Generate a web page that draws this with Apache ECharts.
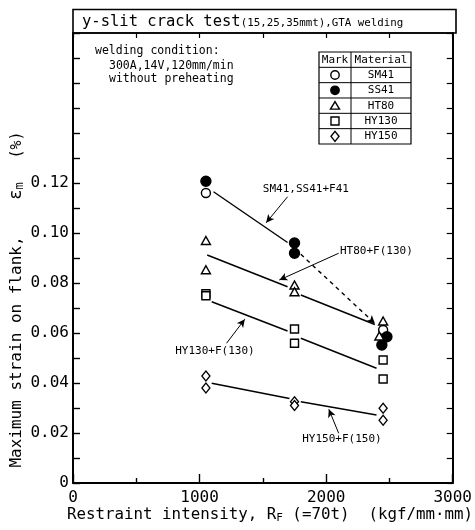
<!DOCTYPE html>
<html>
<head>
<meta charset="utf-8">
<script src="https://cdn.jsdelivr.net/npm/echarts@6/dist/echarts.min.js"></script>
<style>
  html, body { margin: 0; padding: 0; background: #fff; }
  #chart { width: 475px; height: 530px; }
</style>
</head>
<body>
<div id="chart"></div>
<script>
// Restraint intensity R_F (kgf/mm·mm) vs. maximum strain on flank (%)
const sm41 = [[1050, 0.1160], [2450, 0.0612]];
const ss41 = [[1050, 0.1207], [1750, 0.0960], [1750, 0.0919], [2480, 0.0585], [2440, 0.0552]];
const ht80 = [[1050, 0.0970], [1050, 0.0853], [1750, 0.0792], [1750, 0.0765], [2450, 0.0648], [2420, 0.0588]];
const hy130 = [[1050, 0.0757], [1050, 0.0749], [1750, 0.0616], [1750, 0.0559], [2450, 0.0492], [2450, 0.0416]];
const hy150 = [[1050, 0.0428], [1050, 0.0380], [1750, 0.0325], [1750, 0.0310], [2450, 0.0299], [2450, 0.0251]];

// trend lines (broken at the marker columns)
const smSsTrend = [[[1110, 0.1165], [1695, 0.0962]]];
const ht80Trend = [[[1060, 0.0912], [1695, 0.0785]], [[1800, 0.0752], [2385, 0.0634]]];
const hy130Trend = [[[1096, 0.0725], [1695, 0.0608]], [[1800, 0.0579], [2398, 0.0459]]];
const hy150Trend = [[[1096, 0.0399], [1710, 0.0338]], [[1800, 0.0325], [2398, 0.0272]]];
const dashedTrend = [[1800, 0.0915], [2385, 0.0638]];

// label text, anchor and leader arrows
const noteTexts = ['SM41,SS41+F41', 'HT80+F(130)', 'HY130+F(130)', 'HY150+F(150)'];
const notePos = [[1500, 0.1176], [2109, 0.0929], [1121, 0.0528], [2125, 0.0176]];
const noteAlign = ['left', 'left', 'center', 'center'];
const noteArrows = [
  [[1695, 0.1145], [1526, 0.1041]],
  [[2099, 0.0919], [1630, 0.0812]],
  [[1213, 0.0559], [1357, 0.0655]],
  [[2099, 0.0199], [2021, 0.0295]]
];

const xTicks = [0, 1000, 2000, 3000];
const yTickLabels = ['0', '0.02', '0.04', '0.06', '0.08', '0.10', '0.12'];

const legendRows = [
  ['circle', 'SM41', false],
  ['circle', 'SS41', true],
  ['triangle', 'HT80', false],
  ['rect', 'HY130', false],
  ['diamond', 'HY150', false]
];

const FONT = 'DejaVu Sans Mono';
const INK = '#000';

const chart = echarts.init(document.getElementById('chart'), null, { renderer: 'canvas' });

function markSeries(name, data, symbol, size, filled) {
  return {
    name, type: 'scatter', data, symbol, symbolSize: size,
    xAxisIndex: 0, yAxisIndex: 0, z: 5,
    itemStyle: { color: filled ? INK : '#fff', borderColor: INK, borderWidth: 1.4, opacity: 1 }
  };
}

function lineSeries(segments, extra) {
  return segments.map((seg, i) => Object.assign({
    type: 'line', data: seg, showSymbol: false, symbol: 'none',
    xAxisIndex: 0, yAxisIndex: 0, z: 3,
    lineStyle: { color: INK, width: 1.4 }
  }, i === 0 ? (extra || {}) : {}));
}

const arrowLines = noteArrows.map(a => [{ coord: a[0] }, { coord: a[1] }]);
arrowLines.push([{ coord: dashedTrend[0], lineStyle: { type: [4, 4], width: 1.4 } }, { coord: dashedTrend[1] }]);

const series = [].concat(
  lineSeries(smSsTrend, {
    markLine: {
      silent: true, symbol: ['none', 'arrow'], symbolSize: [6, 8],
      label: { show: false },
      lineStyle: { color: INK, width: 1, type: 'solid' },
      data: arrowLines
    }
  }),
  lineSeries(ht80Trend),
  lineSeries(hy130Trend),
  lineSeries(hy150Trend),
  [
    markSeries('SM41', sm41, 'circle', 9, false),
    markSeries('SS41', ss41, 'circle', 10, true),
    markSeries('HT80', ht80, 'triangle', [9, 8], false),
    markSeries('HY130', hy130, 'rect', 8, false),
    markSeries('HY150', hy150, 'diamond', [8, 10], false),
    {
      type: 'scatter', symbol: 'circle', symbolSize: 1, silent: true, z: 6,
      itemStyle: { color: '#fff', opacity: 1, borderWidth: 0 },
      data: notePos.map((p, i) => ({
        value: p,
        label: {
          show: true, position: 'inside', formatter: noteTexts[i],
          align: noteAlign[i], verticalAlign: 'middle',
          fontFamily: FONT, fontSize: 11, color: INK,
          textBorderWidth: 0, opacity: 1
        }
      }))
    }
  ]
);

// legend table
const tbl = { x0: 319, x1: 351, x2: 411, y0: 52, rowH: 15.33 };
const legendGraphics = [];
const rows = legendRows.length + 1;
legendGraphics.push({
  type: 'rect', shape: { x: tbl.x0, y: tbl.y0, width: tbl.x2 - tbl.x0, height: tbl.rowH * rows },
  style: { fill: '#fff', stroke: INK, lineWidth: 1.2 }, z: 10
});
legendGraphics.push({
  type: 'line', shape: { x1: tbl.x1, y1: tbl.y0, x2: tbl.x1, y2: tbl.y0 + tbl.rowH * rows },
  style: { stroke: INK, lineWidth: 1 }, z: 11
});
for (let r = 1; r < rows; r++) {
  legendGraphics.push({
    type: 'line', shape: { x1: tbl.x0, y1: tbl.y0 + tbl.rowH * r, x2: tbl.x2, y2: tbl.y0 + tbl.rowH * r },
    style: { stroke: INK, lineWidth: 1 }, z: 11
  });
}
const cy = r => tbl.y0 + tbl.rowH * (r + 0.5);
legendGraphics.push({
  type: 'text', z: 12,
  style: { text: 'Mark', x: (tbl.x0 + tbl.x1) / 2, y: cy(0), align: 'center', verticalAlign: 'middle', font: '11px ' + FONT, fill: INK }
});
legendGraphics.push({
  type: 'text', z: 12,
  style: { text: 'Material', x: (tbl.x1 + tbl.x2) / 2, y: cy(0), align: 'center', verticalAlign: 'middle', font: '11px ' + FONT, fill: INK }
});
legendRows.forEach((row, i) => {
  const r = i + 1;
  const sx = (tbl.x0 + tbl.x1) / 2, sy = cy(r);
  const st = { fill: row[2] ? INK : '#fff', stroke: INK, lineWidth: 1.4 };
  let g;
  if (row[0] === 'circle') g = { type: 'circle', shape: { cx: sx, cy: sy, r: 4.2 }, style: st };
  else if (row[0] === 'triangle') g = { type: 'polygon', shape: { points: [[sx, sy - 4], [sx + 4.5, sy + 3.5], [sx - 4.5, sy + 3.5]] }, style: st };
  else if (row[0] === 'rect') g = { type: 'rect', shape: { x: sx - 4, y: sy - 4, width: 8, height: 8 }, style: st };
  else g = { type: 'polygon', shape: { points: [[sx, sy - 5], [sx + 4, sy], [sx, sy + 5], [sx - 4, sy]] }, style: st };
  g.z = 12;
  legendGraphics.push(g);
  legendGraphics.push({
    type: 'text', z: 12,
    style: { text: row[1], x: (tbl.x1 + tbl.x2) / 2, y: sy, align: 'center', verticalAlign: 'middle', font: '11px ' + FONT, fill: INK }
  });
});

const option = {
  animation: false,
  backgroundColor: '#fff',
  grid: { left: 73, right: 19, top: 33, bottom: 47, containLabel: false },
  xAxis: [
    {
      type: 'value', min: 0, max: 3000, interval: 1000, position: 'bottom',
      axisLine: { show: true, onZero: false, lineStyle: { color: INK, width: 2 } },
      axisTick: { show: true, inside: true, length: 9, lineStyle: { color: INK, width: 1.4 } },
      minorTick: { show: true, splitNumber: 2, length: 5, lineStyle: { color: INK, width: 1.4 } },
      splitLine: { show: false },
      axisLabel: {
        margin: 7, fontFamily: FONT, fontSize: 16, color: INK,
        formatter: v => (xTicks.indexOf(v) >= 0 ? String(v) : '')
      }
    },
    {
      type: 'value', min: 0, max: 3000, interval: 500, position: 'top',
      axisLine: { show: true, onZero: false, lineStyle: { color: INK, width: 1.5 } },
      axisTick: { show: true, inside: true, length: 5, lineStyle: { color: INK, width: 1.2 } },
      splitLine: { show: false }, axisLabel: { show: false }
    }
  ],
  yAxis: [
    {
      type: 'value', min: 0, max: 0.18, interval: 0.02, position: 'left',
      axisLine: { show: true, onZero: false, lineStyle: { color: INK, width: 2 } },
      axisTick: { show: true, inside: true, length: 7, lineStyle: { color: INK, width: 1.4 } },
      minorTick: { show: true, splitNumber: 2, length: 7, lineStyle: { color: INK, width: 1.4 } },
      splitLine: { show: false },
      axisLabel: {
        margin: 4, fontFamily: FONT, fontSize: 16, color: INK,
        formatter: v => {
          const i = Math.round(v / 0.02);
          return i < yTickLabels.length ? yTickLabels[i] : '';
        }
      }
    },
    {
      type: 'value', min: 0, max: 0.18, interval: 0.01, position: 'right',
      axisLine: { show: true, onZero: false, lineStyle: { color: INK, width: 2 } },
      axisTick: { show: true, inside: true, length: 6, lineStyle: { color: INK, width: 1.2 } },
      splitLine: { show: false }, axisLabel: { show: false }
    }
  ],
  series: series,
  graphic: [
    // title bar
    {
      type: 'rect', shape: { x: 73, y: 9.5, width: 383, height: 23.5 },
      style: { fill: 'none', stroke: INK, lineWidth: 1.6 }, z: 10
    },
    {
      type: 'text', z: 11,
      style: {
        x: 82, y: 22, verticalAlign: 'middle', fill: INK,
        text: '{a|y-slit crack test}{b|(15,25,35mmt),GTA welding}',
        rich: {
          a: { fontFamily: FONT, fontSize: 15.5, fill: INK, verticalAlign: 'bottom' },
          b: { fontFamily: FONT, fontSize: 10.8, fill: INK, verticalAlign: 'bottom', padding: [0, 0, 1, 0] }
        }
      }
    },
    // welding condition
    { type: 'text', z: 11, style: { x: 95, y: 51, verticalAlign: 'middle', text: 'welding condition:', font: '11.5px ' + FONT, fill: INK } },
    { type: 'text', z: 11, style: { x: 109, y: 66, verticalAlign: 'middle', text: '300A,14V,120mm/min', font: '11.5px ' + FONT, fill: INK } },
    { type: 'text', z: 11, style: { x: 109, y: 79, verticalAlign: 'middle', text: 'without preheating', font: '11.5px ' + FONT, fill: INK } },
    // x-axis title
    {
      type: 'text', z: 11,
      style: {
        x: 67, y: 515, verticalAlign: 'middle', fill: INK,
        text: '{t|Restraint intensity, R}{s|F}{t| (=70t)}',
        rich: {
          t: { fontFamily: FONT, fontSize: 15.8, fill: INK },
          s: { fontFamily: FONT, fontSize: 11, fill: INK, padding: [6, 0, 0, 0] }
        }
      }
    },
    {
      type: 'text', z: 11,
      style: { x: 473, y: 515, align: 'right', verticalAlign: 'middle', text: '(kgf/mm·mm)', font: '15.8px ' + FONT, fill: INK }
    },
    // y-axis title (rotated)
    {
      type: 'text', z: 11, x: 17, y: 352, rotation: Math.PI / 2,
      style: { x: 0, y: 0, align: 'center', verticalAlign: 'middle', text: 'Maximum strain on flank,', font: '16px ' + FONT, fill: INK }
    },
    {
      type: 'text', z: 11, x: 17, y: 191, rotation: Math.PI / 2,
      style: {
        x: 0, y: 0, align: 'center', verticalAlign: 'middle', fill: INK,
        text: '{t|ε}{s|m}',
        rich: {
          t: { fontFamily: FONT, fontSize: 17, fill: INK },
          s: { fontFamily: FONT, fontSize: 12, fill: INK, padding: [5, 0, 0, 0] }
        }
      }
    },
    {
      type: 'text', z: 11, x: 17, y: 145, rotation: Math.PI / 2,
      style: { x: 0, y: 0, align: 'center', verticalAlign: 'middle', text: '(%)', font: '15px ' + FONT, fill: INK }
    }
  ].concat(legendGraphics)
};

chart.setOption(option);
</script>
</body>
</html>
